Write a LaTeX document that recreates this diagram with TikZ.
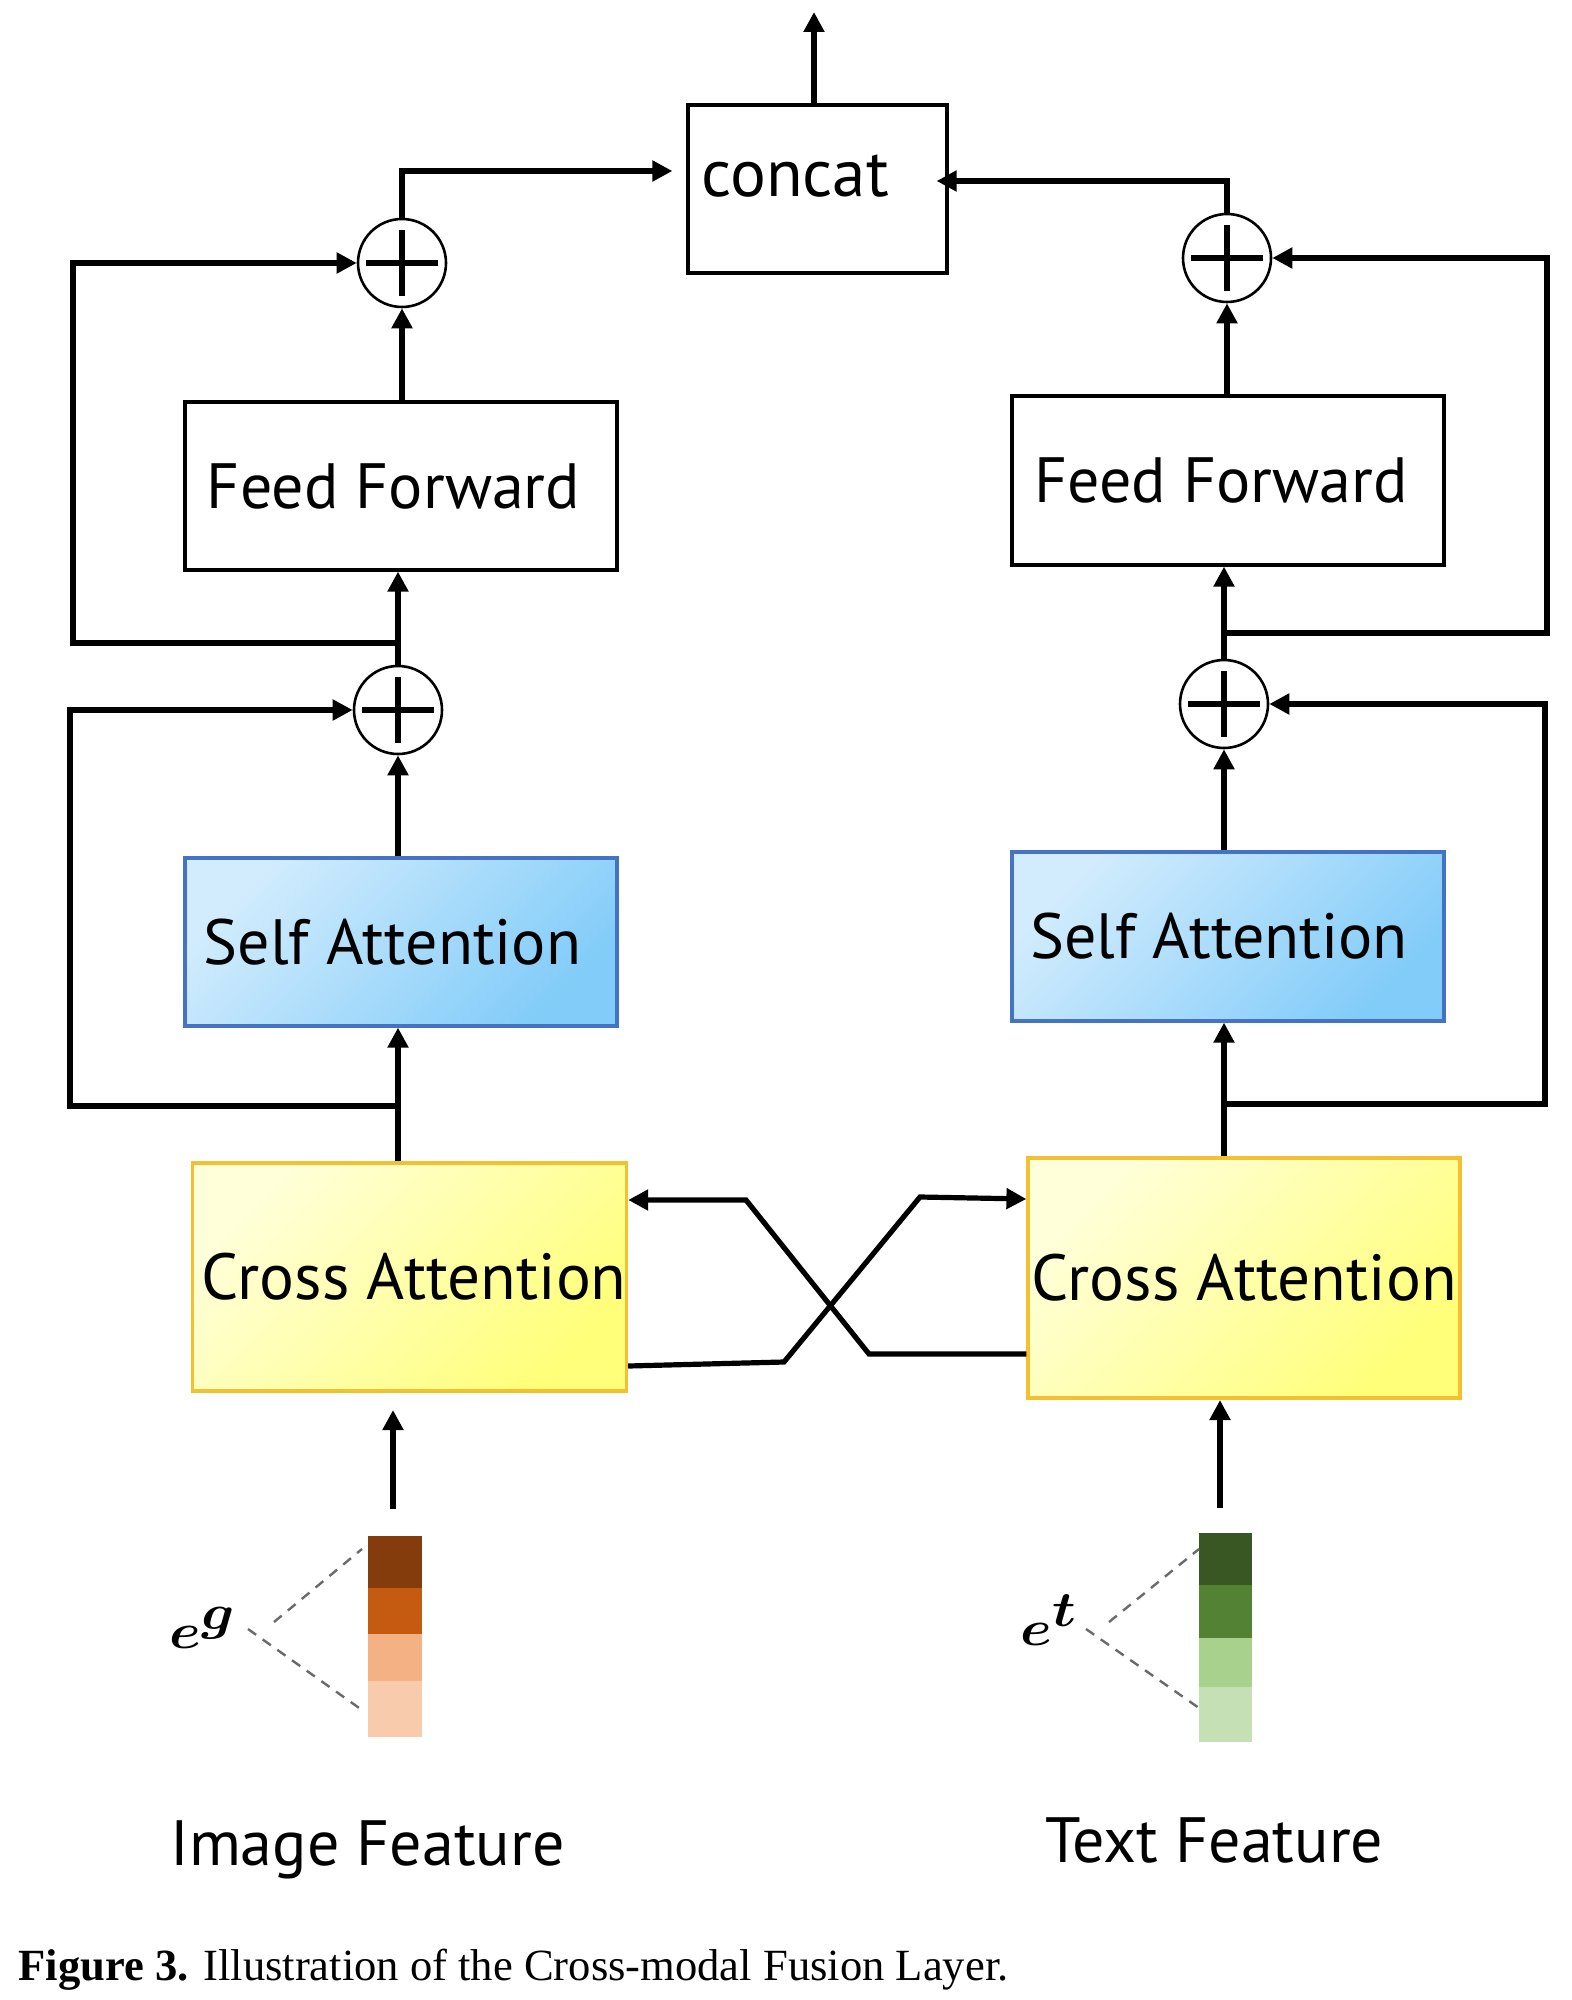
\documentclass[tikz,border=0pt]{standalone}
\usepackage{fontspec}
\setmainfont{PT Sans}
\newfontfamily\capfont{Liberation Serif}
\usepackage{bm}
\usetikzlibrary{arrows.meta,calc}
\definecolor{saLight}{HTML}{D2ECFD}
\definecolor{saDark}{HTML}{82CCF9}
\definecolor{saBorder}{HTML}{4472C4}
\definecolor{caLight}{HTML}{FFFFDA}
\definecolor{caDark}{HTML}{FFFF7A}
\definecolor{caBorder}{HTML}{F5C030}
\definecolor{or1}{HTML}{843C0C}
\definecolor{or2}{HTML}{C55A11}
\definecolor{or3}{HTML}{F4B183}
\definecolor{or4}{HTML}{F8CBAD}
\definecolor{gr1}{HTML}{385723}
\definecolor{gr2}{HTML}{548235}
\definecolor{gr3}{HTML}{A9D18E}
\definecolor{gr4}{HTML}{C5E0B4}
\definecolor{dashgray}{HTML}{6A6A6A}
\begin{document}
\begin{tikzpicture}[x=0.5pt,y=-0.5pt,
  box/.style={draw, line width=1.6pt, minimum width=216pt, minimum height=84pt, inner sep=0pt, font=\fontsize{32}{38}\selectfont},
  ffbox/.style={box, fill=white},
  sabox/.style={box, draw=saBorder, top color=saLight, bottom color=saDark, shading angle=45},
  cabox/.style={box, draw=caBorder, top color=caLight, bottom color=caDark, shading angle=45, font=\fontsize{32.6}{38}\selectfont},
  conn/.style={line width=2.6pt},
  arr/.style={conn, -{Triangle[length=10pt,width=10pt]}},
  oplus/.style={circle, draw, line width=1.3pt, minimum size=44pt, inner sep=0pt, fill=white,
    path picture={\draw[line width=2.6pt] ([xshift=-18pt]path picture bounding box.center) -- ([xshift=18pt]path picture bounding box.center);
                  \draw[line width=2.6pt] ([yshift=-16.5pt]path picture bounding box.center) -- ([yshift=16.5pt]path picture bounding box.center);}},
  lbl/.style={anchor=base west, inner sep=0pt, font=\fontsize{32}{38}\selectfont},
  sym/.style={anchor=base west, inner sep=0pt, font=\fontsize{36}{40}\selectfont},
  dsh/.style={draw=dashgray, line width=1.2pt, dash pattern=on 5pt off 4pt}
]
\useasboundingbox (0,0) rectangle (1572,2000);

% boxes
\node[box, minimum width=129.5pt, minimum height=84pt] (concat) at (817.5,189) {};
\node[anchor=base west, inner sep=0pt, font=\fontsize{33.5}{40}\selectfont] (concatT) at (701,197) {concat};
\node[ffbox] (ffL) at (401,486) {\kern-7.5pt Feed Forward};
\node[ffbox, minimum height=84.5pt] (ffR) at (1228,480.5) {\kern-7pt Feed Forward};
\node[sabox] (saL) at (401,942) {\kern-8.5pt Self Attention};
\node[sabox, minimum height=84.5pt] (saR) at (1228,936.5) {\kern-9pt Self Attention};
\node[cabox, minimum width=215.5pt, minimum height=114pt] (caL) at (409.5,1277) {\kern4.5pt Cross Attention};
\node[cabox, minimum height=120pt] (caR) at (1244,1278) {Cross Attention};

% circles
\node[oplus] (cL1) at (402,263) {};
\node[oplus] (cR1) at (1227,258) {};
\node[oplus] (cL2) at (398,710) {};
\node[oplus] (cR2) at (1224,704) {};

% output
\coordinate (outT) at (814,12);
\draw[arr] (concat.north -| outT) -- (outT);
\draw[arr] (cL1.north) |- ([xshift=-7pt,yshift=9pt]concat.west);
\draw[arr] (cR1.north) |- ([xshift=-6pt,yshift=4pt]concat.east);

% upper stage
\draw[arr] (cL1.south |- ffL.north) -- (cL1.south);
\draw[arr] (cR1.south |- ffR.north) -- (cR1.south);
\draw[arr] (cL2.north) -- (cL2.north |- ffL.south);
\draw[arr] (cR2.north) -- (cR2.north |- ffR.south);
\coordinate (jL1) at (398,643);
\coordinate (jR1) at (1224,633);
\draw[arr] (jL1) -- ++(-325,0) |- (cL1.west);
\draw[arr] (jR1) -- ++(323,0) |- (cR1.east);

% lower stage
\draw[arr] (cL2.south |- saL.north) -- (cL2.south);
\draw[arr] (cR2.south |- saR.north) -- (cR2.south);
\draw[arr] (cL2.south |- caL.north) -- (cL2.south |- saL.south);
\draw[arr] (cR2.south |- caR.north) -- (cR2.south |- saR.south);
\coordinate (jL2) at (398,1106);
\coordinate (jR2) at (1224,1104);
\draw[arr] (jL2) -- ++(-328,0) |- (cL2.west);
\draw[arr] (jR2) -- ++(321,0) |- (cR2.east);

% cross connections
\draw[arr] ([yshift=-38pt]caR.west) -- (869,1354) -- (746,1200) -- ([yshift=38.5pt]caL.east);
\draw[arr] ([yshift=-44.5pt]caL.east) -- (784,1362) -- (920,1197) -- ([yshift=39.5pt]caR.west);

% inputs
\coordinate (inLb) at (393,1509);
\coordinate (inLt) at (393,1410);
\coordinate (inRb) at (1220,1508);
\coordinate (inRt) at (1220,1400);
\draw[arr] (inLb) -- (inLt);
\draw[arr] (inRb) -- (inRt);

% feature bars
\fill[or1] (368,1536) rectangle (422,1588);
\fill[or2] (368,1588) rectangle (422,1634);
\fill[or3] (368,1634) rectangle (422,1681);
\fill[or4] (368,1681) rectangle (422,1737);
\fill[gr1] (1199,1533) rectangle (1252,1585);
\fill[gr2] (1199,1585) rectangle (1252,1638);
\fill[gr3] (1199,1638) rectangle (1252,1687);
\fill[gr4] (1199,1687) rectangle (1252,1742);

% symbols and dashed lines
\node[sym] (eg) at (169,1648) {\scalebox{1.15}[1]{$\bm{e^{g}}$}};
\node[sym] (et) at (1020,1645) {\scalebox{1.15}[1]{$\bm{e^{t}}$}};
\coordinate (dL1a) at (274,1622); \coordinate (dL1b) at (362,1549);
\coordinate (dL2a) at (248,1629); \coordinate (dL2b) at (362,1710);
\coordinate (dR1a) at (1109,1622); \coordinate (dR1b) at (1199,1549);
\coordinate (dR2a) at (1086,1629); \coordinate (dR2b) at (1199,1708);
\draw[dsh] (dL1a) -- (dL1b);
\draw[dsh] (dL2a) -- (dL2b);
\draw[dsh] (dR1a) -- (dR1b);
\draw[dsh] (dR2a) -- (dR2b);

% feature labels
\node[lbl] (imgF) at (170,1865) {Image Feature};
\node[lbl] (txtF) at (1045,1862) {Text Feature};

% caption
\node[anchor=base west, inner sep=0pt, font=\capfont\fontsize{22.3}{26}\selectfont] (cap) at (18,1980) {\textbf{Figure 3.} Illustration of the Cross-modal Fusion Layer.};
\end{tikzpicture}
\end{document}
